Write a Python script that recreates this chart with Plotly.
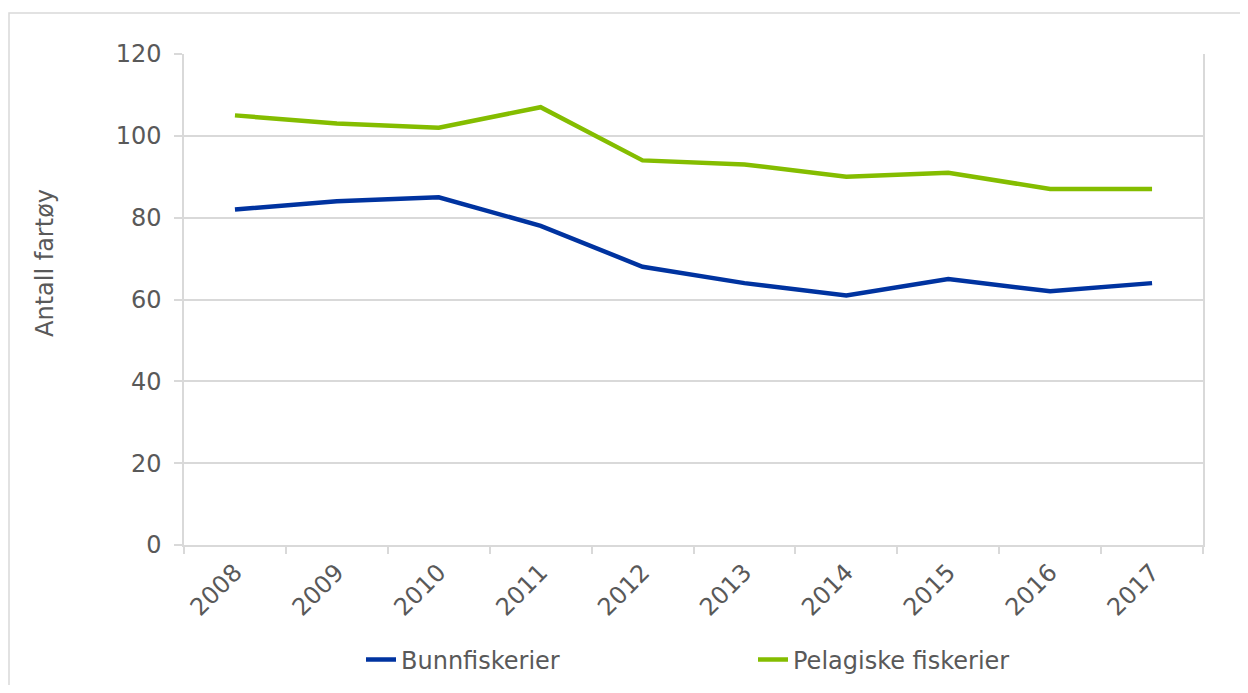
import plotly.graph_objects as go

# data
years = ['2008', '2009', '2010', '2011', '2012', '2013', '2014', '2015', '2016', '2017']
bunnfiskerier = [82, 84, 85, 78, 68, 64, 61, 65, 62, 64]
pelagiske = [105, 103, 102, 107, 94, 93, 90, 91, 87, 87]
y_ticks = [0, 20, 40, 60, 80, 100, 120]

# page body has an 8px margin, so the figure is 16px smaller than the window
OFF = 8
W, H = 1248 - 2 * OFF, 693 - 2 * OFF
L, R, T, B = 184 - OFF, W - (1203 - OFF), 54 - OFF, H - (545 - OFF)
pw, ph = W - L - R, H - T - B

grid = '#d9d9d9'
text_col = '#595959'
font_family = 'DejaVu Sans, Verdana, sans-serif'
fs = 24


def px_x(x):
    # reference pixel -> paper coordinate
    return (x - OFF - L) / pw


def px_y(y):
    return (H - B - (y - OFF)) / ph


fig = go.Figure()

fig.add_trace(go.Scatter(
    x=years, y=bunnfiskerier, name='Bunnfiskerier', mode='lines',
    line=dict(color='#0033A0', width=4.5),
))
fig.add_trace(go.Scatter(
    x=years, y=pelagiske, name='Pelagiske fiskerier', mode='lines',
    line=dict(color='#84BD00', width=4.5),
))

fig.update_xaxes(
    type='category',
    range=[-0.5, len(years) - 0.5],
    tickson='boundaries',
    ticks='outside', ticklen=7, tickcolor=grid, tickwidth=1.5,
    tickangle=-45, ticklabelstandoff=2,
    showgrid=False,
    showline=True, linecolor=grid, linewidth=1.5,
    tickfont=dict(size=fs, color=text_col),
    automargin=False,
)
fig.update_yaxes(
    range=[0, 120],
    tickvals=y_ticks,
    ticks='outside', ticklen=8, tickcolor=grid, tickwidth=1.5,
    ticklabelstandoff=8,
    showgrid=True, gridcolor=grid, gridwidth=1.5,
    zeroline=False,
    showline=True, linecolor=grid, linewidth=1.5, mirror=True,
    tickfont=dict(size=fs, color=text_col),
    automargin=False,
)

# y-akse tittel
fig.add_annotation(
    text='Antall fartøy', textangle=-90,
    xref='paper', yref='paper', x=px_x(45), y=px_y(263),
    xanchor='center', yanchor='middle',
    showarrow=False, font=dict(size=fs, color=text_col),
)

# ramme rundt figuren
fig.add_shape(
    type='rect', xref='paper', yref='paper',
    x0=px_x(9), x1=px_x(1260), y0=px_y(720), y1=px_y(13),
    line=dict(color=grid, width=1.5), layer='below',
)

fig.update_layout(
    width=W, height=H,
    margin=dict(l=L, r=R, t=T, b=B, autoexpand=False),
    paper_bgcolor='white', plot_bgcolor='white',
    font=dict(family=font_family, color=text_col),
    showlegend=True,
    legend=dict(
        orientation='h',
        xref='container', yref='container',
        x=(361 - OFF) / W, xanchor='left',
        y=(H - (660 - OFF)) / H, yanchor='middle',
        entrywidth=347, entrywidthmode='pixels',
        font=dict(size=fs, color=text_col),
        bgcolor='rgba(0,0,0,0)',
    ),
)

fig.write_html('out.html')
